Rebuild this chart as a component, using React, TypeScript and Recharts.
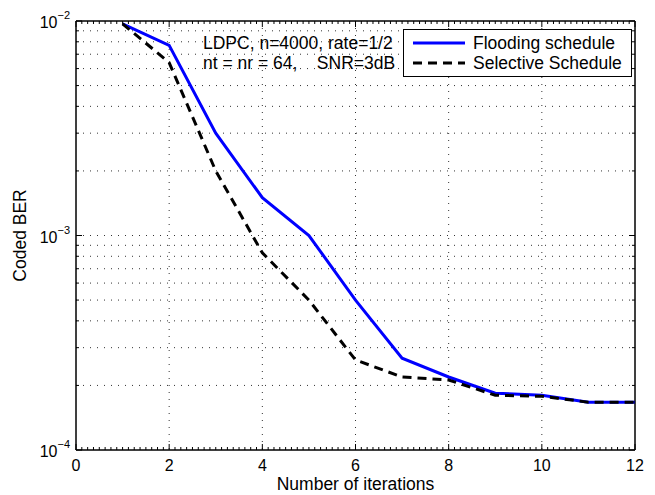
import React from 'react'
import {
  LineChart,
  Line,
  XAxis,
  YAxis,
  CartesianGrid,
  Legend,
  ReferenceArea,
} from 'recharts'

// iterations on the x axis
const iterations = [1, 2, 3, 4, 5, 6, 7, 8, 9, 10, 11, 12]

// coded BER
const flooding = [
  9.7e-3, 7.7e-3, 3.0e-3, 1.5e-3, 1.0e-3, 5.0e-4, 2.68e-4, 2.19e-4, 1.84e-4,
  1.8e-4, 1.67e-4, 1.67e-4,
]
const selective = [
  9.7e-3, 6.4e-3, 2.0e-3, 8.3e-4, 5.0e-4, 2.63e-4, 2.19e-4, 2.12e-4, 1.8e-4,
  1.78e-4, 1.67e-4, 1.67e-4,
]

const xMajorTicks = [0, 2, 4, 6, 8, 10, 12]
const xMinorStep = 0.125
const yDecades = [-4, -3]
const yMantissas = [1, 2, 3, 4, 5, 6, 7, 8, 9]

const annotationLines = ['LDPC, n=4000, rate=1/2', 'nt = nr = 64,    SNR=3dB']

const data = iterations.map((it, i) => ({
  it,
  flooding: flooding[i],
  selective: selective[i],
}))

const xTicks: number[] = []
for (let v = 0; v <= 12 + 1e-9; v += xMinorStep) xTicks.push(Math.round(v * 1000) / 1000)

const yTicks: number[] = []
yDecades.forEach((d) => yMantissas.forEach((m) => yTicks.push(m * Math.pow(10, d))))
yTicks.push(1e-2)

const FONT = '"Liberation Sans", Arial, Helvetica, sans-serif'

const isDecade = (v: number) => {
  const l = Math.log10(v)
  return Math.abs(l - Math.round(l)) < 1e-9
}
const isMajorX = (v: number) => xMajorTicks.some((t) => Math.abs(t - v) < 1e-9)

const BottomTick = (props: any) => {
  const { x, y, payload } = props
  const major = isMajorX(payload.value)
  return (
    <g>
      <line x1={x} x2={x} y1={y} y2={y - (major ? 6 : 3)} stroke="#000" />
      {major && (
        <text x={x} y={y + 21} textAnchor="middle" fontSize={16} fontFamily={FONT} fill="#000">
          {payload.value}
        </text>
      )}
    </g>
  )
}

const TopTick = (props: any) => {
  const { x, y, payload } = props
  const major = isMajorX(payload.value)
  return <line x1={x} x2={x} y1={y} y2={y + (major ? 6 : 3)} stroke="#000" />
}

const LeftTick = (props: any) => {
  const { x, y, payload } = props
  const major = isDecade(payload.value)
  return (
    <g>
      <line x1={x} x2={x + (major ? 6 : 3)} y1={y} y2={y} stroke="#000" />
      {major && (
        <text x={x - 6} y={y + 7} textAnchor="end" fontSize={16} fontFamily={FONT} fill="#000">
          10
          <tspan dy={-9} fontSize={11}>
            {'\u2212' + Math.abs(Math.round(Math.log10(payload.value)))}
          </tspan>
        </text>
      )}
    </g>
  )
}

const RightTick = (props: any) => {
  const { x, y, payload } = props
  const major = isDecade(payload.value)
  return <line x1={x} x2={x - (major ? 6 : 3)} y1={y} y2={y} stroke="#000" />
}

const renderLegend = (props: any) => {
  const { payload } = props
  return (
    <div
      style={{
        width: 229,
        height: 48,
        boxSizing: 'border-box',
        border: '1px solid #000',
        background: '#fff',
        paddingTop: 3,
        fontFamily: FONT,
        fontSize: 17.5,
      }}
    >
      {(payload || [])
        .filter((entry: any) => entry.type !== 'none')
        .map((entry: any) => (
          <div
            key={entry.value}
            style={{ display: 'flex', alignItems: 'center', height: 20, whiteSpace: 'nowrap' }}
          >
            <svg width={62} height={20} style={{ display: 'block', flex: 'none', marginLeft: 9 }}>
              <line
                x1={0}
                x2={52}
                y1={10}
                y2={10}
                stroke={entry.color}
                strokeWidth={3}
                strokeDasharray={entry.payload?.strokeDasharray}
              />
            </svg>
            <span style={{ marginLeft: -2, color: '#000' }}>{entry.value}</span>
          </div>
        ))}
    </div>
  )
}

export default function App() {
  return (
    <div style={{ position: 'absolute', left: 0, top: 0, width: 655, height: 495, background: '#fff' }}>
      <LineChart width={655} height={495} data={data} margin={{ top: 0, right: 0, bottom: 0, left: 0 }}>
        <CartesianGrid
          stroke="#333"
          strokeDasharray="1 6"
          horizontalValues={yTicks.slice(1, -1)}
          verticalValues={xMajorTicks.slice(1, -1)}
        />
        <XAxis
          dataKey="it"
          type="number"
          domain={[0, 12]}
          ticks={xTicks}
          interval={0}
          height={45}
          tickSize={0}
          tickMargin={0}
          tickLine={false}
          axisLine={{ stroke: '#000' }}
          tick={<BottomTick />}
          label={{
            value: 'Number of iterations',
            content: ({ viewBox }: any) => (
              <text
                x={viewBox.x + viewBox.width / 2}
                y={viewBox.y + 40}
                textAnchor="middle"
                fontSize={17.5}
                fontFamily={FONT}
                fill="#000"
              >
                Number of iterations
              </text>
            ),
          }}
        />
        <XAxis
          xAxisId="t"
          dataKey="it"
          orientation="top"
          type="number"
          domain={[0, 12]}
          ticks={xTicks}
          interval={0}
          height={21}
          tickSize={0}
          tickMargin={0}
          tickLine={false}
          axisLine={{ stroke: '#000' }}
          tick={<TopTick />}
        />
        <YAxis
          type="number"
          scale="log"
          domain={[1e-4, 1e-2]}
          allowDataOverflow
          ticks={yTicks}
          interval={0}
          width={76}
          tickSize={0}
          tickMargin={0}
          tickLine={false}
          axisLine={{ stroke: '#000' }}
          tick={<LeftTick />}
          label={{
            value: 'Coded BER',
            content: ({ viewBox }: any) => {
              const cx = 26
              const cy = viewBox.y + viewBox.height / 2
              return (
                <text
                  x={cx}
                  y={cy}
                  transform={`rotate(-90 ${cx} ${cy})`}
                  textAnchor="middle"
                  fontSize={17.5}
                  fontFamily={FONT}
                  fill="#000"
                >
                  Coded BER
                </text>
              )
            },
          }}
        />
        <YAxis
          yAxisId="r"
          orientation="right"
          type="number"
          scale="log"
          domain={[1e-4, 1e-2]}
          allowDataOverflow
          ticks={yTicks}
          interval={0}
          width={20}
          tickSize={0}
          tickMargin={0}
          tickLine={false}
          axisLine={{ stroke: '#000' }}
          tick={<RightTick />}
        />
        <ReferenceArea
          x1={0}
          x2={12}
          y1={1e-4}
          y2={1e-2}
          fill="none"
          stroke="#000"
          strokeWidth={1}
          ifOverflow="visible"
        />
        <Legend
          layout="horizontal"
          verticalAlign="middle"
          align="center"
          content={renderLegend}
          wrapperStyle={{ left: 403, top: 29, width: 229, height: 48 }}
        />
        {/* invisible series so the mirrored top/right axes get a domain */}
        <Line
          xAxisId="t"
          yAxisId="r"
          dataKey="flooding"
          stroke="none"
          legendType="none"
          dot={false}
          activeDot={false}
          isAnimationActive={false}
        />
        <Line
          type="linear"
          dataKey="flooding"
          name="Flooding schedule"
          stroke="#0000ff"
          strokeWidth={3}
          dot={false}
          activeDot={false}
          isAnimationActive={false}
        />
        <Line
          type="linear"
          dataKey="selective"
          name="Selective Schedule"
          stroke="#000"
          strokeWidth={3}
          strokeDasharray="9 6"
          dot={false}
          activeDot={false}
          isAnimationActive={false}
        />
      </LineChart>
      <div
        style={{
          position: 'absolute',
          left: 203,
          top: 33,
          fontFamily: FONT,
          fontSize: 17.5,
          lineHeight: '20px',
          whiteSpace: 'pre',
          color: '#000',
        }}
      >
        {annotationLines.map((l) => (
          <div key={l}>{l}</div>
        ))}
      </div>
    </div>
  )
}
